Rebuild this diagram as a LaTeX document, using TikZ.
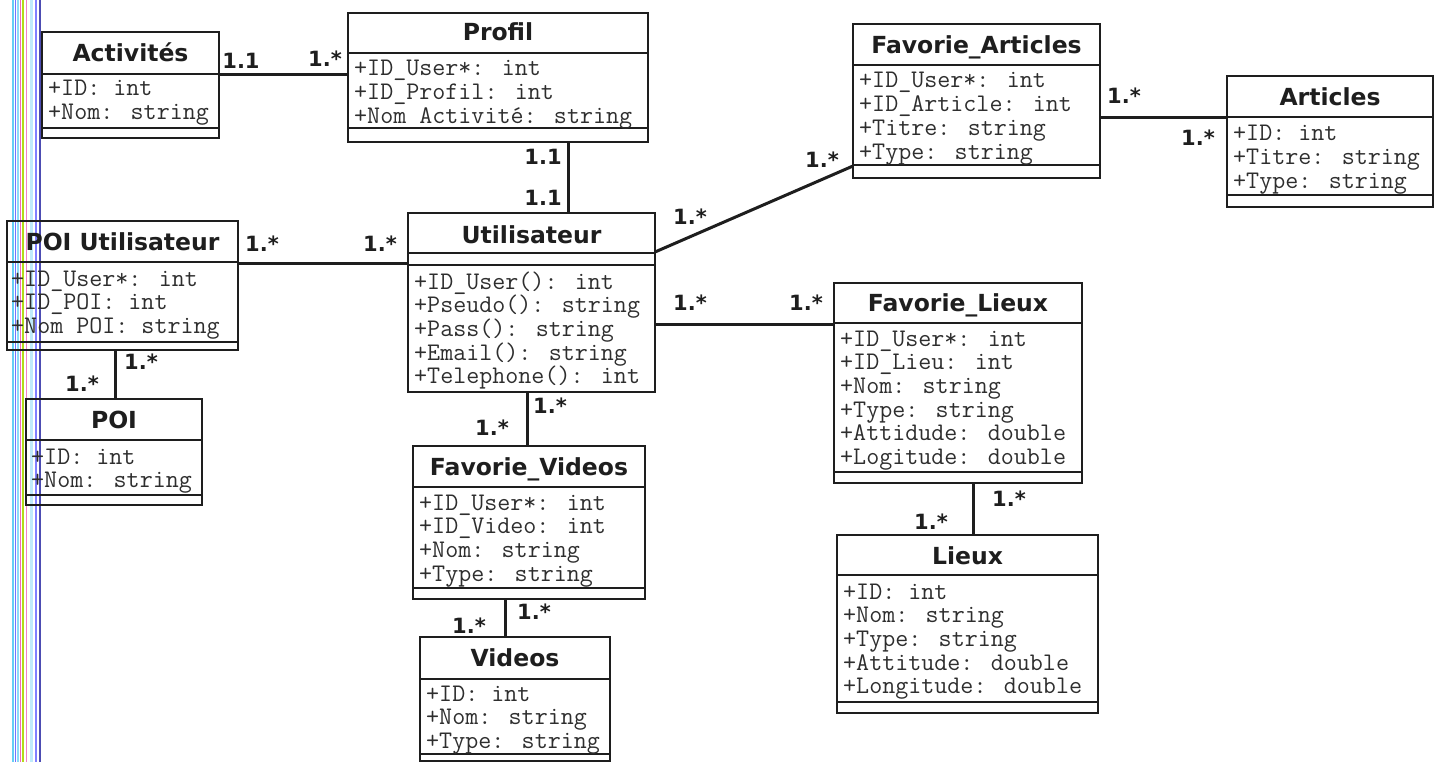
\documentclass[tikz,border=0pt]{standalone}
\usepackage{fontspec}
\newfontfamily\ttlfont{DejaVu Sans}
\usetikzlibrary{calc}
\definecolor{ink}{HTML}{1E1E1E}
\definecolor{attrink}{HTML}{2E2E2E}
\tikzset{
  box/.style={draw=ink, line width=2.4pt, inner sep=0pt, outer sep=0pt},
  sep/.style={draw=ink, line width=2pt},
  conn/.style={draw=ink, line width=3pt},
  ttl/.style={anchor=base, inner sep=0pt, text=ink, font=\ttlfont\bfseries\fontsize{23.5}{26}\selectfont},
  attr/.style={anchor=base west, inner sep=0pt, text=attrink, font=\ttfamily\fontsize{25.3}{27}\selectfont},
  mult/.style={inner sep=0pt, text=ink, font=\ttlfont\bfseries\fontsize{21}{24}\selectfont},
  scanline/.style={line width=#1},
}
% name, left, top, right, bottom, title sep, attr sep, title, title centre y
\newcommand\umlbox[9]{%
  \node[box, minimum width={(#4-#2)*1pt}, minimum height={(#5-#3)*1pt}] (#1) at ({(#2+#4)/2},{(#3+#5)/2}) {};
  \draw[sep] (#2,#6) -- (#4,#6);
  \draw[sep] (#2,#7) -- (#4,#7);
  \node[ttl] (#1-t) at ({(#2+#4)/2},{#9+8.5}) {#8};
}
% name, x, first baseline, rows
\newcommand\umlattrs[4]{%
  \foreach \t [count=\i from 0] in {#4} {\node[attr] (#1-a\i) at (#2,{#3+23.7*\i}) {\t};}
}
\begin{document}
\begin{tikzpicture}[x=1pt,y=-1pt]
\useasboundingbox (0,0) rectangle (1442,762);

% scanner stripes at the left edge
\draw[scanline=2.5pt, cyan!60] (13,0) -- (13,762);
\draw[scanline=1.5pt, blue!55] (15.5,0) -- (15.5,762);
\draw[scanline=2pt, cyan!45] (18,0) -- (18,762);
\draw[scanline=1.2pt, magenta!60] (20.8,0) -- (20.8,762);
\draw[scanline=1.5pt, yellow!70!green] (23,0) -- (23,762);
\draw[scanline=1pt, magenta!50] (26,0) -- (26,762);
\draw[scanline=3pt, cyan!25] (31.5,0) -- (31.5,762);
\draw[scanline=1.2pt, blue!50] (36,0) -- (36,762);
\draw[scanline=1.5pt, blue!40!gray] (40,0) -- (40,762);

% classes
\umlbox{act}{42}{32}{219}{138}{74}{128}{Activités}{53}
\umlattrs{act}{48}{96}{{+ID: int},{+Nom: string}}

\umlbox{prof}{348}{13}{648}{142}{53}{128}{Profil}{32}
\umlattrs{prof}{354}{76}{{+ID\_User*: int},{+ID\_Profil: int},{+Nom Activité: string}}

\umlbox{user}{408}{213}{655}{392}{253}{265}{Utilisateur}{235}
\umlattrs{user}{414}{289}{{+ID\_User(): int},{+Pseudo(): string},{+Pass(): string},{+Email(): string},{+Telephone(): int}}

\umlbox{poiu}{7}{221}{238}{350}{262}{342}{POI Utilisateur}{242}
\umlattrs{poiu}{11}{286}{{+ID\_User*: int},{+ID\_POI: int},{+Nom POI: string}}

\umlbox{poi}{26}{399}{202}{505}{440}{495}{POI}{420}
\umlattrs{poi}{31}{464}{{+ID: int},{+Nom: string}}

\umlbox{fart}{853}{24}{1100}{178}{65}{165}{Favorie\_Articles}{45}
\umlattrs{fart}{859}{88}{{+ID\_User*: int},{+ID\_Article: int},{+Titre: string},{+Type: string}}

\umlbox{art}{1227}{76}{1433}{207}{117}{195}{Articles}{97}
\umlattrs{art}{1233}{141}{{+ID: int},{+Titre: string},{+Type: string}}

\umlbox{fvid}{413}{446}{645}{599}{487}{588}{Favorie\_Videos}{467}
\umlattrs{fvid}{419}{510}{{+ID\_User*: int},{+ID\_Video: int},{+Nom: string},{+Type: string}}

\umlbox{vid}{420}{637}{610}{761}{679}{754}{Videos}{658}
\umlattrs{vid}{426}{701}{{+ID: int},{+Nom: string},{+Type: string}}

\umlbox{flieu}{834}{283}{1082}{483}{323}{472}{Favorie\_Lieux}{303}
\umlattrs{flieu}{840}{346}{{+ID\_User*: int},{+ID\_Lieu: int},{+Nom: string},{+Type: string},{+Attidude: double},{+Logitude: double}}

\umlbox{lieux}{837}{535}{1098}{713}{575}{702}{Lieux}{556}
\umlattrs{lieux}{843}{599}{{+ID: int},{+Nom: string},{+Type: string},{+Attitude: double},{+Longitude: double}}

% associations
\draw[conn] ([yshift=10pt]act.east) coordinate (c1) -- (c1 -| prof.west);
\draw[conn] ([xshift=70pt]prof.south) coordinate (c2) -- (c2 |- user.north);
\draw[conn] ([yshift=22.5pt]poiu.east) coordinate (c3) -- (c3 -| user.west);
\draw[conn] ([xshift=-7pt]poiu.south) coordinate (c4) -- (c4 |- poi.north);
\draw[conn] ([yshift=50.5pt]user.east) -- ([yshift=-65pt]fart.west);
\draw[conn] ([yshift=-17pt]fart.east) coordinate (c5) -- (c5 -| art.west);
\draw[conn] ([yshift=-21.5pt]user.east) coordinate (c6) -- (c6 -| flieu.west);
\draw[conn] ([xshift=-4.5pt]user.south) coordinate (c7) -- (c7 |- fvid.north);
\draw[conn] ([xshift=-10pt]vid.north) coordinate (c8) -- (c8 |- fvid.south);
\draw[conn] ([xshift=5.5pt]lieux.north) coordinate (c9) -- (c9 |- flieu.south);

% multiplicities
\node[mult] (m1) at (241,61) {1.1};
\node[mult] (m2) at (325,59) {1.*};
\node[mult] (m3) at (543,157) {1.1};
\node[mult] (m4) at (543,198) {1.1};
\node[mult] (m5) at (262,244) {1.*};
\node[mult] (m6) at (380,244) {1.*};
\node[mult] (m7) at (141,362) {1.*};
\node[mult] (m8) at (82,384) {1.*};
\node[mult] (m9) at (690,217) {1.*};
\node[mult] (m10) at (822,160) {1.*};
\node[mult] (m11) at (1124,96) {1.*};
\node[mult] (m12) at (1198,138) {1.*};
\node[mult] (m13) at (690,303) {1.*};
\node[mult] (m14) at (806,303) {1.*};
\node[mult] (m15) at (550,406) {1.*};
\node[mult] (m16) at (492,428) {1.*};
\node[mult] (m17) at (534,612) {1.*};
\node[mult] (m18) at (469,626) {1.*};
\node[mult] (m19) at (1009,499) {1.*};
\node[mult] (m20) at (931,522) {1.*};
\end{tikzpicture}
\end{document}
